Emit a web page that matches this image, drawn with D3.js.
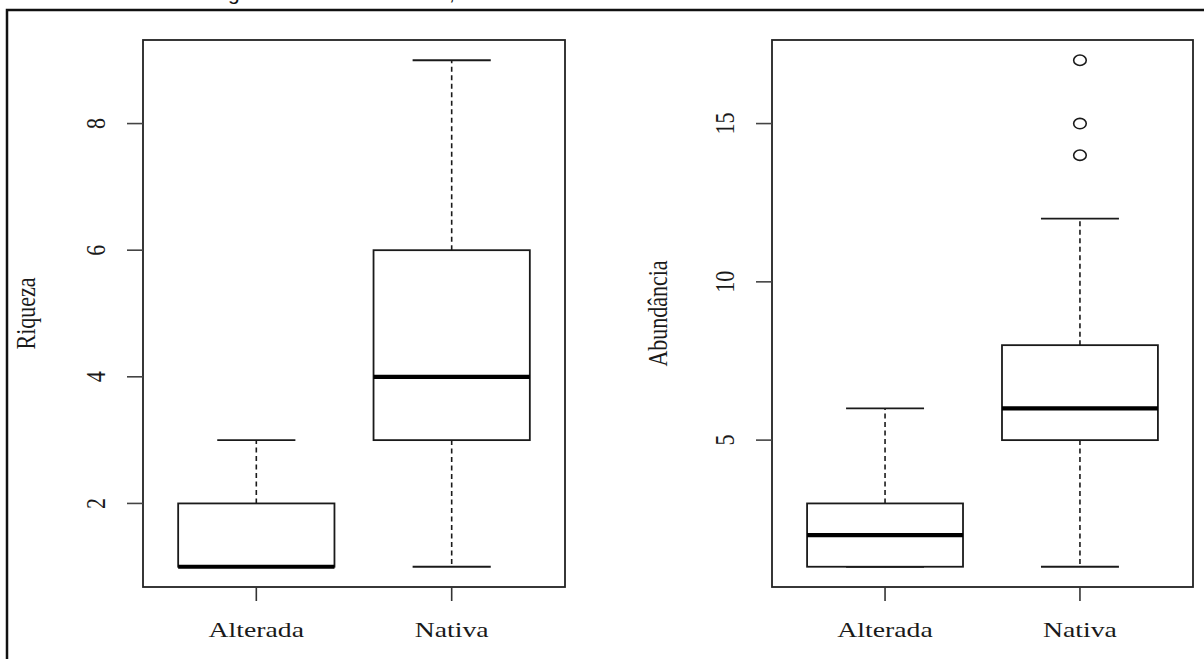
<!DOCTYPE html>
<html>
<head>
<meta charset="utf-8">
<script src="https://cdn.jsdelivr.net/npm/d3@7"></script>
<style>
  html, body { margin: 0; padding: 0; background: #fff; }
  svg { display: block; }
</style>
</head>
<body>
<svg id="chart" width="1204" height="659"></svg>
<script>
// ---- data ----
const categories = ["Alterada", "Nativa"];
// [min, q1, median, q3, max]
const riquezaStats = [[1, 1, 1, 2, 3], [1, 3, 4, 6, 9]];
const riquezaOutliers = [[], []];
const abundanciaStats = [[1, 1, 2, 3, 6], [1, 5, 6, 8, 12]];
const abundanciaOutliers = [[], [14, 15, 17]];
const riquezaTicks = [2, 4, 6, 8];
const abundanciaTicks = [5, 10, 15];
const yTitles = ["Riqueza", "Abundância"];

(function () {
// ---- layout ----
const svg = d3.select("#chart");
const W = 1204, H = 659;
const SX = 1.2;   // horizontal stretch seen in the reference
const SXL = 1.26; // stretch for horizontal category labels
const FS = 22;
const ink = "#1a1a1a";
const serif = "'Liberation Serif', 'Times New Roman', serif";

// outer frame (partially visible)
svg.append("path")
  .attr("d", `M7,${H} L7,10 L${W},10`)
  .attr("fill", "none").attr("stroke", "#111").attr("stroke-width", 2.5);
// cropped caption glimpses above frame
svg.append("text").attr("x", 228).attr("y", 0).attr("font-family", "'Liberation Sans', Arial, sans-serif")
  .attr("font-size", 21).attr("fill", "#111").text("g");
svg.append("text").attr("x", 449).attr("y", 0).attr("font-family", "'Liberation Sans', Arial, sans-serif")
  .attr("font-size", 21).attr("fill", "#111").text(",");

const panels = [
  { left: 143, right: 565, stats: riquezaStats, outliers: riquezaOutliers, ticks: riquezaTicks, title: yTitles[0], titleOff: 108 },
  { left: 772, right: 1193, stats: abundanciaStats, outliers: abundanciaOutliers, ticks: abundanciaTicks, title: yTitles[1], titleOff: 105 }
];
const plotTop = 40, plotBottom = 587;

panels.forEach(p => {
  const allVals = p.stats.flat().concat(p.outliers.flat());
  const [lo, hi] = d3.extent(allVals);
  const pad = (hi - lo) * 0.04;
  const y = d3.scaleLinear().domain([lo - pad, hi + pad]).range([plotBottom, plotTop]);
  const n = categories.length;
  const xpad = n * 0.04;
  const x = d3.scaleLinear().domain([0.5 - xpad, n + 0.5 + xpad]).range([p.left, p.right]);
  const boxW = x(1.4) - x(1.0);
  const capW = boxW / 2;

  const g = svg.append("g");

  p.stats.forEach((s, i) => {
    const cx = x(i + 1);
    const [mn, q1, md, q3, mx] = s;
    g.append("line").attr("x1", cx).attr("x2", cx).attr("y1", y(q3)).attr("y2", y(mx))
      .attr("stroke", ink).attr("stroke-width", 1.6).attr("stroke-dasharray", "5,3.5");
    g.append("line").attr("x1", cx).attr("x2", cx).attr("y1", y(q1)).attr("y2", y(mn))
      .attr("stroke", ink).attr("stroke-width", 1.6).attr("stroke-dasharray", "5,3.5");
    [mn, mx].forEach(v => {
      g.append("line").attr("x1", cx - capW).attr("x2", cx + capW).attr("y1", y(v)).attr("y2", y(v))
        .attr("stroke", ink).attr("stroke-width", 1.8);
    });
    g.append("rect").attr("x", cx - boxW).attr("y", y(q3)).attr("width", boxW * 2).attr("height", y(q1) - y(q3))
      .attr("fill", "#fff").attr("stroke", ink).attr("stroke-width", 1.8);
    g.append("line").attr("x1", cx - boxW).attr("x2", cx + boxW).attr("y1", y(md)).attr("y2", y(md))
      .attr("stroke", "#000").attr("stroke-width", 4.2);
    p.outliers[i].forEach(v => {
      g.append("ellipse").attr("cx", cx).attr("cy", y(v)).attr("rx", 6.3).attr("ry", 5.2)
        .attr("fill", "none").attr("stroke", ink).attr("stroke-width", 1.6);
    });
  });

  g.append("rect").attr("x", p.left).attr("y", plotTop).attr("width", p.right - p.left).attr("height", plotBottom - plotTop)
    .attr("fill", "none").attr("stroke", "#222").attr("stroke-width", 1.8);

  p.ticks.forEach(t => {
    g.append("line").attr("x1", p.left - 16).attr("x2", p.left).attr("y1", y(t)).attr("y2", y(t))
      .attr("stroke", "#444").attr("stroke-width", 1.6);
    g.append("text")
      .attr("transform", `translate(${p.left - 38},${y(t)}) scale(${SX},1) rotate(-90)`)
      .attr("text-anchor", "middle").attr("font-family", serif).attr("font-size", FS).attr("fill", ink)
      .text(t);
  });

  categories.forEach((c, i) => {
    const cx = x(i + 1);
    g.append("line").attr("x1", cx).attr("x2", cx).attr("y1", plotBottom).attr("y2", plotBottom + 14)
      .attr("stroke", "#333").attr("stroke-width", 1.6);
    g.append("text")
      .attr("transform", `translate(${cx},637) scale(${SXL},1)`)
      .attr("text-anchor", "middle").attr("font-family", serif).attr("font-size", FS).attr("fill", ink)
      .text(c);
  });

  g.append("text")
    .attr("transform", `translate(${p.left - p.titleOff},${(plotTop + plotBottom) / 2}) scale(${SX},1) rotate(-90)`)
    .attr("text-anchor", "middle").attr("font-family", serif).attr("font-size", FS).attr("fill", ink)
    .text(p.title);
});
})();
</script>
</body>
</html>
